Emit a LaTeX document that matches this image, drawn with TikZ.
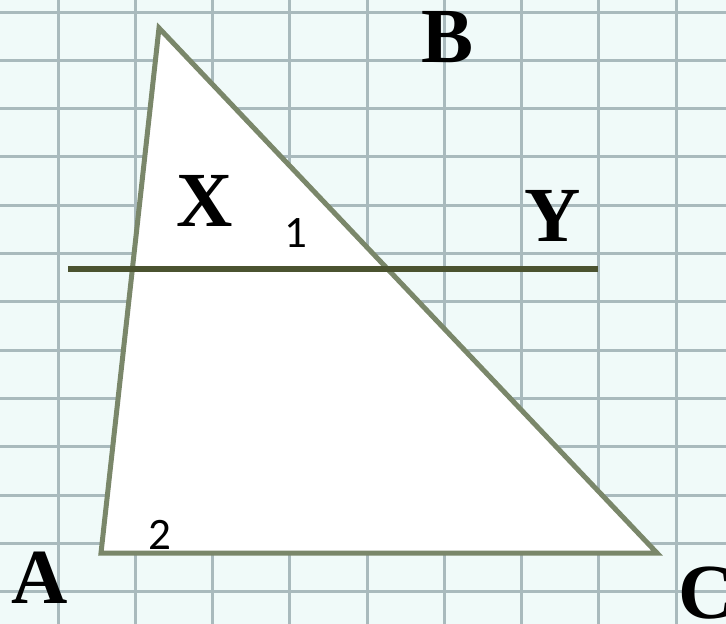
\documentclass[tikz,border=0pt]{standalone}
\usepackage{fontspec}
\setmainfont{Liberation Serif}
\newfontfamily\digitfont{Carlito}
\definecolor{paper}{HTML}{F0FAF9}
\definecolor{gridc}{HTML}{A9BABD}
\definecolor{sidec}{HTML}{7A876A}
\definecolor{parc}{HTML}{4B5330}
\tikzset{
  vlabel/.style={font=\fontsize{78}{78}\selectfont\bfseries, inner sep=0pt},
  alabel/.style={font=\digitfont\fontsize{45}{45}\selectfont, inner sep=0pt},
  gridline/.style={draw=gridc, line width=3pt},
  side/.style={draw=sidec, line width=5pt, line join=miter},
  parline/.style={draw=parc, line width=6pt},
}
\begin{document}
\begin{tikzpicture}[x=1pt,y=-1pt]
\fill[paper] (0,0) rectangle (726,624);
\useasboundingbox (0,0) rectangle (726,624);
% grid
\foreach \i in {0,...,8} {
  \draw[gridline] ({58+77.25*\i},0) -- ({58+77.25*\i},624);
}
\foreach \j in {0,...,12} {
  \draw[gridline] (0,{12+48.33*\j}) -- (726,{12+48.33*\j});
}
% triangle
\coordinate (A) at (101,553);
\coordinate (B) at (159,28);
\coordinate (C) at (657,553);
\fill[white] (A) -- (B) -- (C) -- cycle;
\draw[side] (A) -- (B) -- (C) -- cycle;
% parallel line
\coordinate (P1) at (68,269);
\coordinate (P2) at (598,269);
\draw[parline] (P1) -- (P2);
% labels
\node[vlabel] (lB) at (448,37) {B};
\node[vlabel] (lX) at (205,201) {X};
\node[vlabel] (lY) at (553,216) {Y};
\node[vlabel] (lA) at (40,578) {A};
\node[vlabel] (lC) at (707,593) {C};
\node[alabel] (n1) at (296,233) {1};
\node[alabel] (n2) at (160,535) {2};
\end{tikzpicture}
\end{document}
